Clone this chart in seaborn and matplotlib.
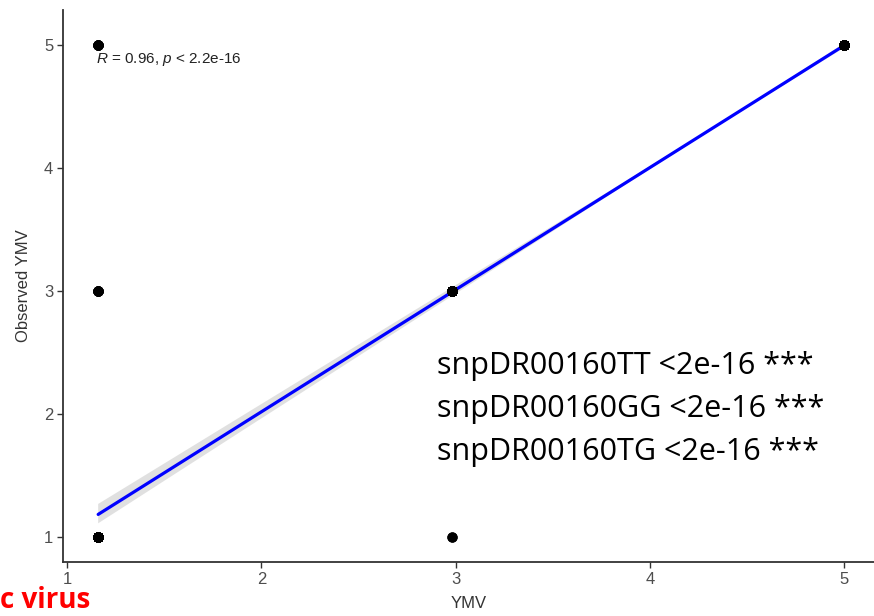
import numpy as np
import pandas as pd
import matplotlib
matplotlib.use("Agg")
import matplotlib.pyplot as plt
import seaborn as sns

ymv_x = [1.16, 1.16, 1.16, 2.98, 2.98, 5.0]
observed_y = [1, 3, 5, 1, 3, 5]
counts = [240, 8, 8, 2, 240, 240]

x_ticks = [1, 2, 3, 4, 5]
y_ticks = [1, 2, 3, 4, 5]
stat_label = r"$R$ = 0.96, $p$ < 2.2e-16"
snp_lines = ["snpDR00160TT <2e-16 ***",
             "snpDR00160GG <2e-16 ***",
             "snpDR00160TG <2e-16 ***"]

df = pd.DataFrame({
    "YMV": np.repeat(ymv_x, counts),
    "Observed YMV": np.repeat(observed_y, counts),
})

sns.set_style("white")
plt.rcParams["font.family"] = ["Liberation Sans", "DejaVu Sans"]
plt.rcParams["mathtext.fontset"] = "custom"
plt.rcParams["mathtext.it"] = "Liberation Sans:italic"
plt.rcParams["mathtext.rm"] = "Liberation Sans"

fig = plt.figure(figsize=(8.74, 6.16), dpi=100)
ax = fig.add_axes([63 / 874, 1 - 562 / 616, 1 - 63 / 874, 552 / 616])

sns.regplot(data=df, x="YMV", y="Observed YMV", ax=ax, ci=95,
            scatter_kws=dict(color="black", s=55, linewidths=0, alpha=1, zorder=3),
            line_kws=dict(color="#0000FF", lw=2.3, zorder=2),
            color="#999999")
for poly in ax.collections[1:]:
    poly.set_facecolor("#D9D9D9")
    poly.set_alpha(0.8)
    poly.set_edgecolor("none")

ax.set_xlim(0.979, 5.154)
ax.set_ylim(0.797, 5.285)
ax.set_xticks(x_ticks)
ax.set_yticks(y_ticks)
ax.tick_params(axis="both", direction="out", length=4, width=1, colors="#333333",
               labelsize=12, labelcolor="#4D4D4D", left=True, bottom=True, pad=3)
for s in ["top", "right"]:
    ax.spines[s].set_visible(False)
for s in ["left", "bottom"]:
    ax.spines[s].set_color("#333333")
    ax.spines[s].set_linewidth(1.3)
ax.set_xlabel("YMV", fontsize=12, color="#333333", labelpad=7)
ax.set_ylabel("Observed YMV", fontsize=12, color="#333333", labelpad=9)

ax.text(1.15, 4.88, stat_label, fontsize=11, color="#222222", va="center", ha="left")

for i, line in enumerate(snp_lines):
    fig.text(437 / 874, 1 - (366 + 43 * i) / 616, line, fontsize=22,
             family=["Open Sans", "DejaVu Sans"], color="black", va="center", ha="left")

fig.text(0.0, 1 - 608 / 616, "c virus", fontsize=20, fontweight="bold",
         color="#FF0000", va="baseline", ha="left", family=["Open Sans", "DejaVu Sans"])

fig.savefig("out.png", dpi=100)
